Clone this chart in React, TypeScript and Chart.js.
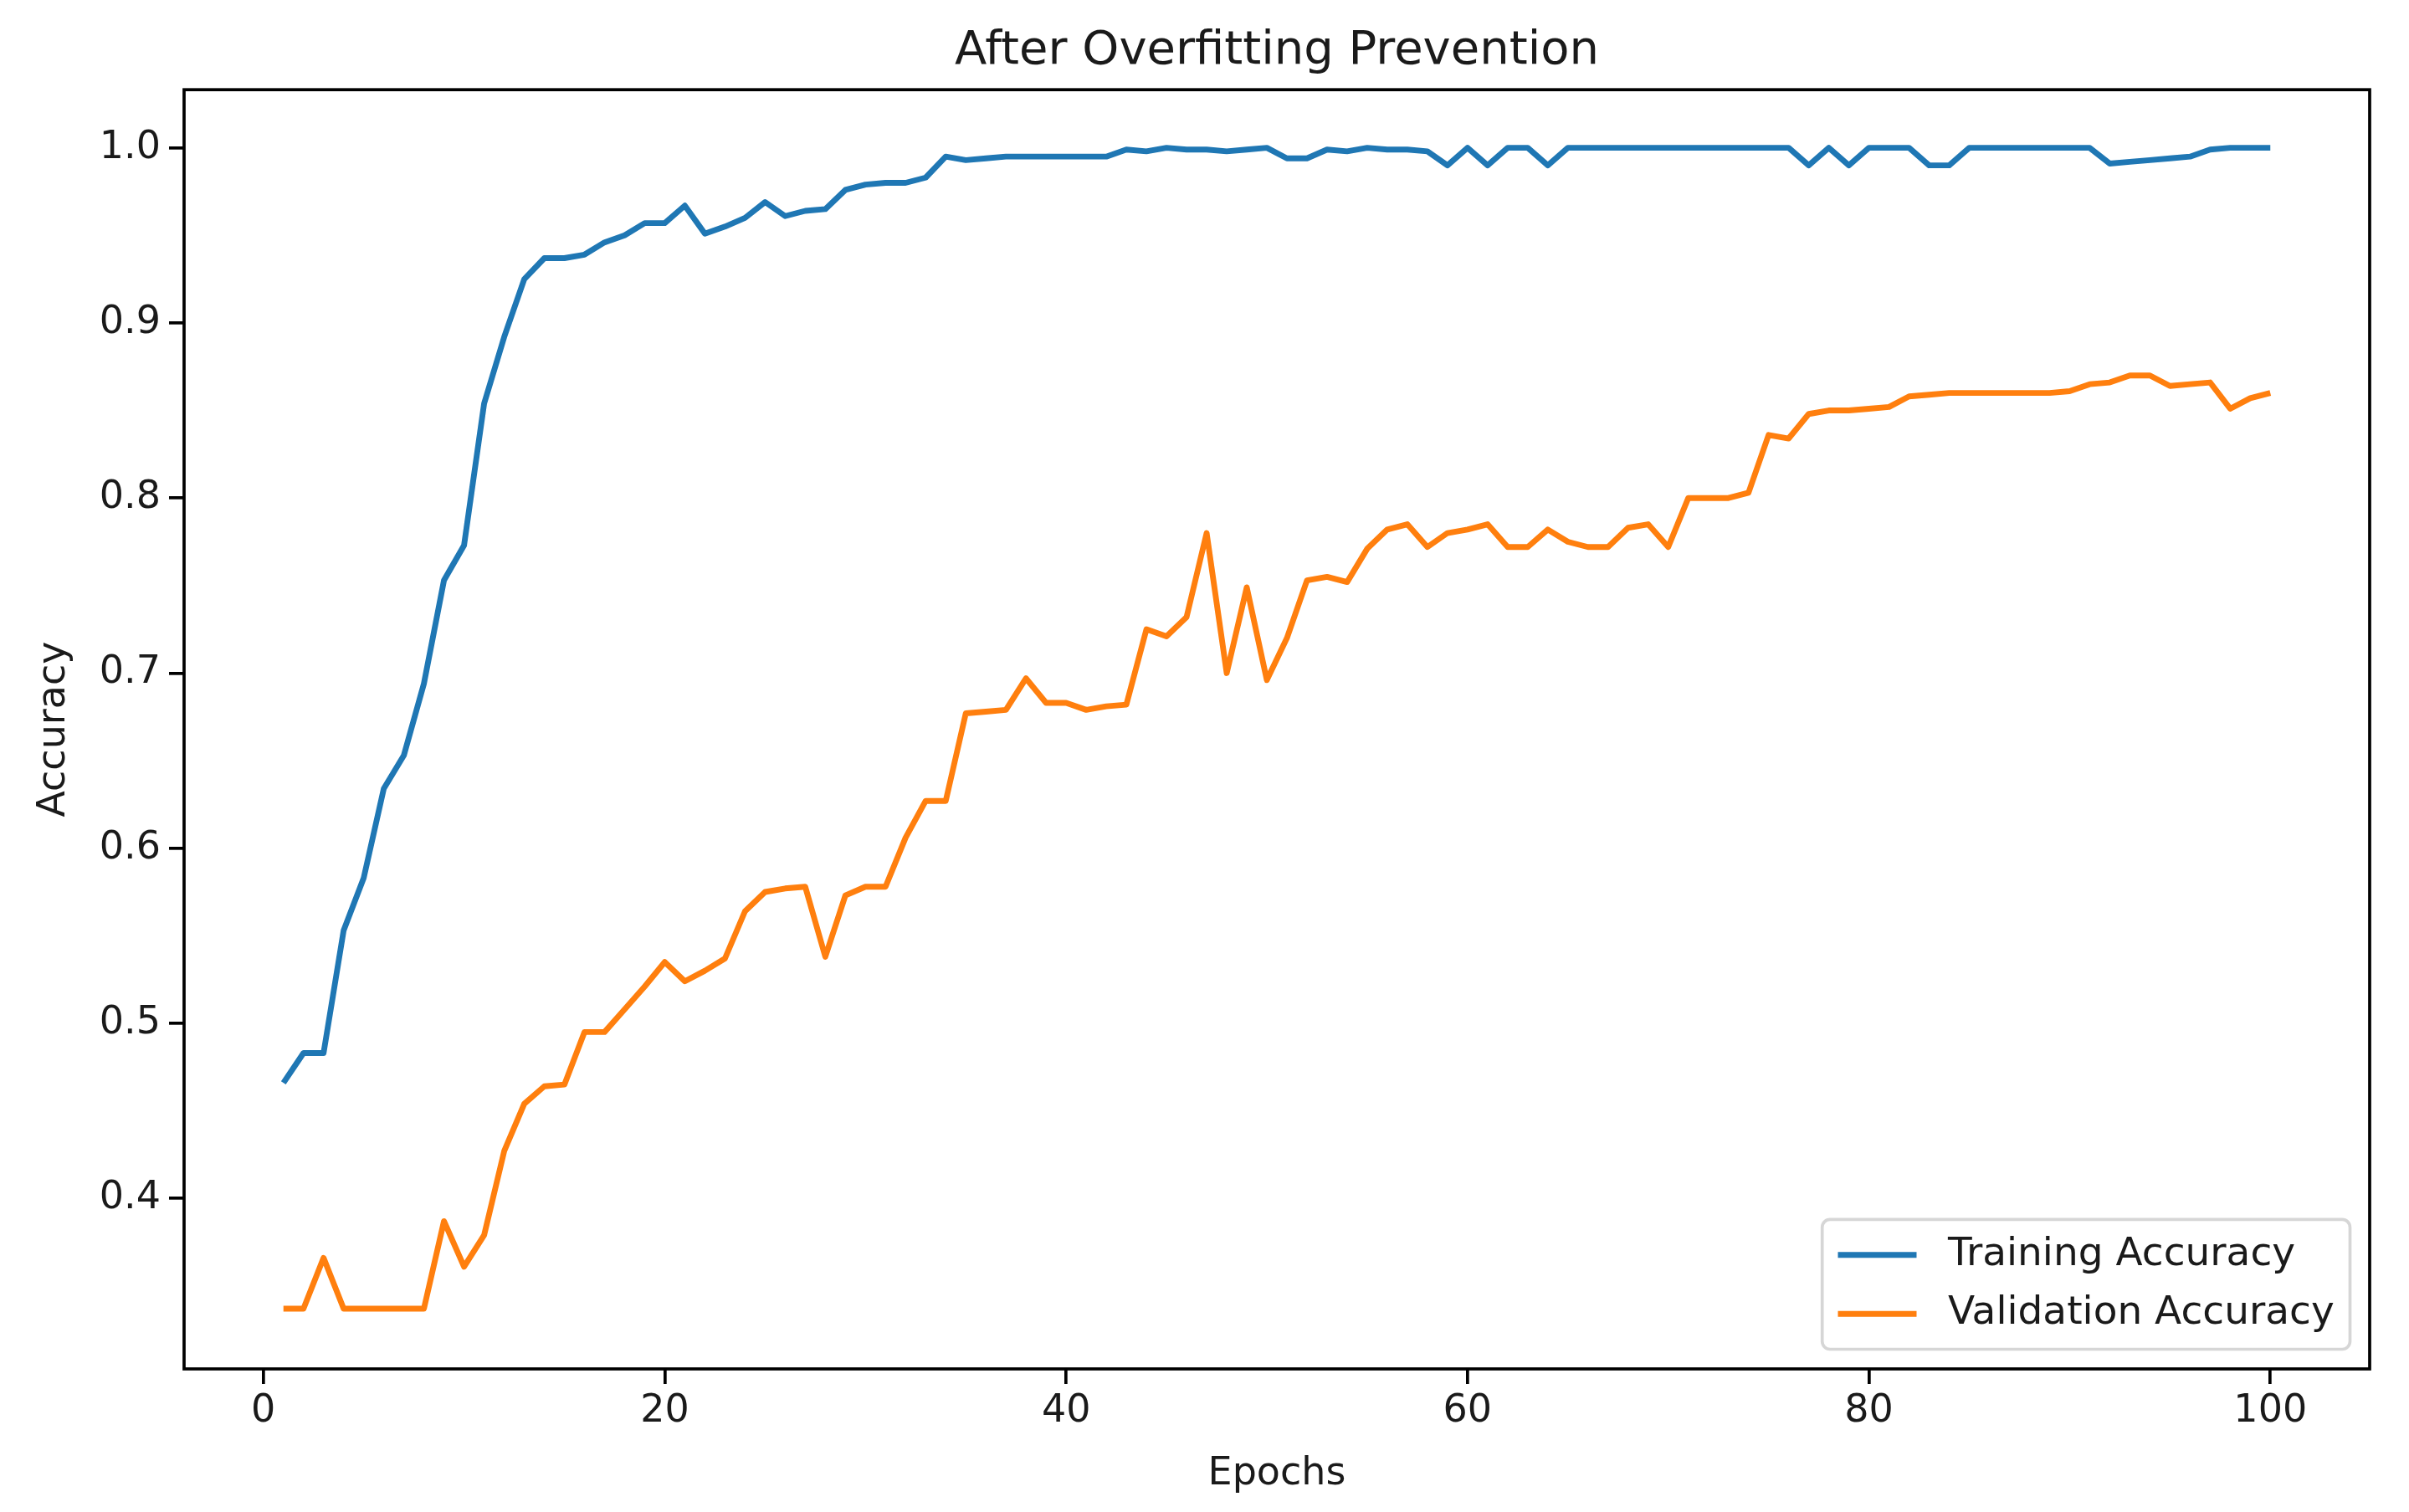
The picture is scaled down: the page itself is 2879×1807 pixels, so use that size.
import React, { useEffect, useRef } from "react";
import { Chart, registerables } from "chart.js";

Chart.register(...registerables);

const TITLE = "After Overfitting Prevention";
const X_LABEL = "Epochs";
const Y_LABEL = "Accuracy";
const SERIES_LABELS = ["Training Accuracy", "Validation Accuracy"];
const SERIES_COLORS = ["#1f77b4", "#ff7f0e"];

const EPOCHS = [
  1, 2, 3, 4, 5, 6, 7, 8, 9, 10,
  11, 12, 13, 14, 15, 16, 17, 18, 19, 20,
  21, 22, 23, 24, 25, 26, 27, 28, 29, 30,
  31, 32, 33, 34, 35, 36, 37, 38, 39, 40,
  41, 42, 43, 44, 45, 46, 47, 48, 49, 50,
  51, 52, 53, 54, 55, 56, 57, 58, 59, 60,
  61, 62, 63, 64, 65, 66, 67, 68, 69, 70,
  71, 72, 73, 74, 75, 76, 77, 78, 79, 80,
  81, 82, 83, 84, 85, 86, 87, 88, 89, 90,
  91, 92, 93, 94, 95, 96, 97, 98, 99, 100,
];

const TRAINING_ACCURACY = [
  0.466, 0.483, 0.483, 0.553, 0.583, 0.634, 0.653, 0.694, 0.753, 0.773,
  0.854, 0.892, 0.925, 0.937, 0.937, 0.939, 0.946, 0.950, 0.957, 0.957,
  0.967, 0.951, 0.955, 0.960, 0.969, 0.961, 0.964, 0.965, 0.976, 0.979,
  0.980, 0.980, 0.983, 0.995, 0.993, 0.994, 0.995, 0.995, 0.995, 0.995,
  0.995, 0.995, 0.999, 0.998, 1.000, 0.999, 0.999, 0.998, 0.999, 1.000,
  0.994, 0.994, 0.999, 0.998, 1.000, 0.999, 0.999, 0.998, 0.990, 1.000,
  0.990, 1.000, 1.000, 0.990, 1.000, 1.000, 1.000, 1.000, 1.000, 1.000,
  1.000, 1.000, 1.000, 1.000, 1.000, 1.000, 0.990, 1.000, 0.990, 1.000,
  1.000, 1.000, 0.990, 0.990, 1.000, 1.000, 1.000, 1.000, 1.000, 1.000,
  1.000, 0.991, 0.992, 0.993, 0.994, 0.995, 0.999, 1.000, 1.000, 1.000,
];

const VALIDATION_ACCURACY = [
  0.337, 0.337, 0.366, 0.337, 0.337, 0.337, 0.337, 0.337, 0.387, 0.361,
  0.379, 0.427, 0.454, 0.464, 0.465, 0.495, 0.495, 0.508, 0.521, 0.535,
  0.524, 0.530, 0.537, 0.564, 0.575, 0.577, 0.578, 0.538, 0.573, 0.578,
  0.578, 0.606, 0.627, 0.627, 0.677, 0.678, 0.679, 0.697, 0.683, 0.683,
  0.679, 0.681, 0.682, 0.725, 0.721, 0.732, 0.780, 0.700, 0.749, 0.696,
  0.720, 0.753, 0.755, 0.752, 0.771, 0.782, 0.785, 0.772, 0.780, 0.782,
  0.785, 0.772, 0.772, 0.782, 0.775, 0.772, 0.772, 0.783, 0.785, 0.772,
  0.800, 0.800, 0.800, 0.803, 0.836, 0.834, 0.848, 0.850, 0.850, 0.851,
  0.852, 0.858, 0.859, 0.860, 0.860, 0.860, 0.860, 0.860, 0.860, 0.861,
  0.865, 0.866, 0.870, 0.870, 0.864, 0.865, 0.866, 0.851, 0.857, 0.860,
];

const X_TICKS = [0, 20, 40, 60, 80, 100];
const Y_TICKS = [0.4, 0.5, 0.6, 0.7, 0.8, 0.9, 1.0];

const FONT_FAMILY = '"DejaVu Sans", "Liberation Sans", sans-serif';
const TEXT_COLOR = "#1a1a1a";
const AXIS_COLOR = "#000000";
const SPINE_W = 3.7;
const LABEL_SIZE = 46;
const LEGEND_SIZE = 47;

const framePlugin = {
  id: "mplFrame",
  afterDatasetsDraw(chart: any) {
    const { ctx, chartArea } = chart;
    ctx.save();
    ctx.strokeStyle = AXIS_COLOR;
    ctx.lineWidth = SPINE_W;
    ctx.strokeRect(
      chartArea.left,
      chartArea.top,
      chartArea.right - chartArea.left,
      chartArea.bottom - chartArea.top
    );
    ctx.restore();
  },
};

const legendPlugin = {
  id: "mplLegend",
  afterDraw(chart: any) {
    const { ctx, chartArea } = chart;
    const fs = LEGEND_SIZE;
    const sets = chart.data.datasets;
    ctx.save();
    ctx.font = `${fs}px ${FONT_FAMILY}`;
    const maxW = Math.max(...sets.map((d: any) => ctx.measureText(d.label).width));
    const borderPad = 0.4 * fs;
    const handleLen = 2 * fs;
    const handlePad = 0.8 * fs;
    const labelSp = 0.5 * fs;
    const axPad = 0.5 * fs;
    const rowH = fs;
    const w = 2 * borderPad + handleLen + handlePad + maxW;
    const h = 2 * borderPad + sets.length * rowH + (sets.length - 1) * labelSp;
    const right = chartArea.right - axPad;
    const bottom = chartArea.bottom - axPad;
    const left = right - w;
    const top = bottom - h;
    const r = 0.2 * fs;
    ctx.beginPath();
    ctx.moveTo(left + r, top);
    ctx.lineTo(right - r, top);
    ctx.arcTo(right, top, right, top + r, r);
    ctx.lineTo(right, bottom - r);
    ctx.arcTo(right, bottom, right - r, bottom, r);
    ctx.lineTo(left + r, bottom);
    ctx.arcTo(left, bottom, left, bottom - r, r);
    ctx.lineTo(left, top + r);
    ctx.arcTo(left, top, left + r, top, r);
    ctx.closePath();
    ctx.fillStyle = "rgba(255,255,255,0.8)";
    ctx.fill();
    ctx.strokeStyle = "rgba(204,204,204,0.8)";
    ctx.lineWidth = SPINE_W;
    ctx.stroke();
    sets.forEach((d: any, i: number) => {
      const cy = top + borderPad + rowH / 2 + i * (rowH + labelSp);
      ctx.beginPath();
      ctx.moveTo(left + borderPad, cy);
      ctx.lineTo(left + borderPad + handleLen, cy);
      ctx.strokeStyle = d.borderColor;
      ctx.lineWidth = 6.9;
      ctx.lineCap = "butt";
      ctx.stroke();
      ctx.fillStyle = TEXT_COLOR;
      ctx.textBaseline = "middle";
      ctx.textAlign = "left";
      ctx.fillText(d.label, left + borderPad + handleLen + handlePad, cy);
    });
    ctx.restore();
  },
};

export default function App() {
  const canvasRef = useRef<HTMLCanvasElement | null>(null);

  useEffect(() => {
    const canvas = canvasRef.current;
    if (!canvas) return;
    const tickFont = { family: FONT_FAMILY, size: LABEL_SIZE };
    const chart = new Chart(canvas, {
      type: "line",
      data: {
        datasets: [
          {
            label: SERIES_LABELS[0],
            data: EPOCHS.map((e, i) => ({ x: e, y: TRAINING_ACCURACY[i] })),
            borderColor: SERIES_COLORS[0],
            backgroundColor: SERIES_COLORS[0],
            borderWidth: 6.9,
            pointRadius: 0,
            tension: 0,
            borderJoinStyle: "round",
            fill: false,
          },
          {
            label: SERIES_LABELS[1],
            data: EPOCHS.map((e, i) => ({ x: e, y: VALIDATION_ACCURACY[i] })),
            borderColor: SERIES_COLORS[1],
            backgroundColor: SERIES_COLORS[1],
            borderWidth: 6.9,
            pointRadius: 0,
            tension: 0,
            borderJoinStyle: "round",
            fill: false,
          },
        ],
      },
      options: {
        responsive: false,
        devicePixelRatio: 1,
        animation: false,
        layout: { padding: { left: 0, right: 47, top: 0, bottom: 0 } },
        plugins: {
          legend: { display: false },
          tooltip: { enabled: false },
          title: {
            display: true,
            fullSize: false,
            text: TITLE,
            color: TEXT_COLOR,
            font: { family: FONT_FAMILY, size: 56, weight: "normal" },
            padding: { top: 28, bottom: 12 },
          },
        },
        scales: {
          x: {
            type: "linear",
            min: -3.95,
            max: 104.95,
            afterBuildTicks: (s: any) => {
              s.ticks = X_TICKS.map((v) => ({ value: v }));
            },
            afterFit: (s: any) => {
              s.height = 171;
            },
            ticks: {
              font: tickFont,
              color: TEXT_COLOR,
              padding: 5,
              maxRotation: 0,
              autoSkip: false,
              callback: (v: any) => String(v),
            },
            grid: {
              drawOnChartArea: false,
              drawTicks: true,
              tickLength: 18,
              lineWidth: SPINE_W,
              color: AXIS_COLOR,
            },
            border: { display: false },
            title: {
              display: true,
              text: X_LABEL,
              color: TEXT_COLOR,
              font: tickFont,
              padding: { top: 0, bottom: 17 },
            },
          },
          y: {
            type: "linear",
            min: 0.3026,
            max: 1.0332,
            afterBuildTicks: (s: any) => {
              s.ticks = Y_TICKS.map((v) => ({ value: v }));
            },
            afterFit: (s: any) => {
              s.width = 220;
            },
            ticks: {
              font: tickFont,
              color: TEXT_COLOR,
              padding: 10,
              autoSkip: false,
              callback: (v: any) => Number(v).toFixed(1),
            },
            grid: {
              drawOnChartArea: false,
              drawTicks: true,
              tickLength: 18,
              lineWidth: SPINE_W,
              color: AXIS_COLOR,
            },
            border: { display: false },
            title: {
              display: true,
              text: Y_LABEL,
              color: TEXT_COLOR,
              font: tickFont,
              padding: { top: 37, bottom: 0 },
            },
          },
        },
      },
      plugins: [framePlugin, legendPlugin],
    } as any);
    return () => chart.destroy();
  }, []);

  return (
    <div style={{ position: "fixed", left: 0, top: 0, width: 2879, height: 1807, background: "#fff" }}>
      <canvas ref={canvasRef} width={2879} height={1807} style={{ display: "block", width: 2879, height: 1807 }} />
    </div>
  );
}
